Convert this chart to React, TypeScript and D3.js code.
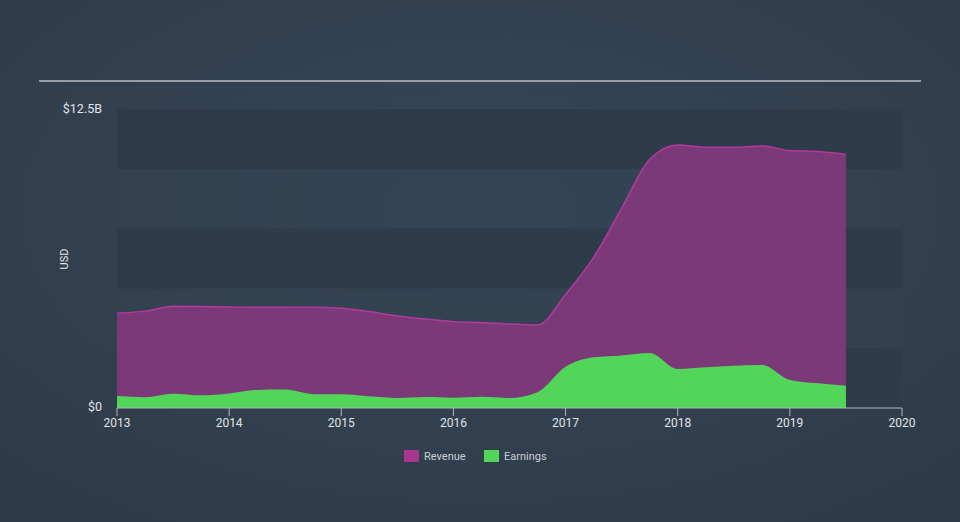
import React from "react";
import * as d3 from "d3";

const years = [2013, 2013.25, 2013.5, 2013.75, 2014, 2014.25, 2014.5, 2014.75, 2015, 2015.25, 2015.5, 2015.75, 2016, 2016.25, 2016.5, 2016.75, 2017, 2017.25, 2017.5, 2017.75, 2018, 2018.25, 2018.5, 2018.75, 2019, 2019.25, 2019.5];
const revenue = [3.96, 4.05, 4.25, 4.24, 4.22, 4.21, 4.21, 4.21, 4.17, 4.03, 3.85, 3.72, 3.61, 3.57, 3.51, 3.47, 4.75, 6.3, 8.35, 10.4, 11.0, 10.9, 10.9, 10.95, 10.76, 10.72, 10.6];
const earnings = [0.5, 0.45, 0.6, 0.53, 0.61, 0.75, 0.77, 0.58, 0.57, 0.49, 0.42, 0.46, 0.43, 0.47, 0.42, 0.66, 1.72, 2.12, 2.2, 2.3, 1.63, 1.7, 1.77, 1.8, 1.17, 1.03, 0.93];
const xTicks = [2013, 2014, 2015, 2016, 2017, 2018, 2019, 2020];
const yTickLabels = ["$0", "$12.5B"];
const yMax = 12.5;
const bandCount = 5;

export default function App() {
  const W = 960, H = 522;
  const x = d3.scaleLinear().domain([2013, 2020]).range([117, 902]);
  const y = d3.scaleLinear().domain([0, yMax]).range([408, 109]);
  const curve = d3.curveMonotoneX;
  const revArea = d3.area<number>().x((_, i) => x(years[i])).y0(y(0)).y1((d) => y(d)).curve(curve);
  const revLine = d3.line<number>().x((_, i) => x(years[i])).y((d) => y(d)).curve(curve);
  const earnArea = d3.area<number>().x((_, i) => x(years[i])).y0(y(0)).y1((d) => y(d)).curve(curve);
  const bands = d3.range(bandCount).map((i) => {
    const v0 = (yMax / bandCount) * i;
    const v1 = (yMax / bandCount) * (i + 1);
    return { y0: y(v1), y1: y(v0), dark: i % 2 === 0 };
  });
  return (
    <svg width={W} height={H} style={{ position: "absolute", left: 0, top: 0, fontFamily: "Roboto, 'Open Sans', sans-serif" }}>
      <defs>
        <radialGradient id="bg" cx="50%" cy="40%" r="75%">
          <stop offset="0%" stopColor="#36475a" />
          <stop offset="100%" stopColor="#2e3a47" />
        </radialGradient>
      </defs>
      <rect width={W} height={H} fill="url(#bg)" />
      <line x1={39} x2={921} y1={81} y2={81} stroke="#b8bec4" strokeWidth={1.5} />
      {bands.map((b, i) => (
        <rect key={i} x={x(2013)} width={x(2020) - x(2013)} y={b.y0} height={b.y1 - b.y0} fill={b.dark ? "#2e3b4a" : "#33424f"} opacity={b.dark ? 1 : 0.5} />
      ))}
      <path d={revArea(revenue) || ""} fill="#7b3a77" />
      <path d={revLine(revenue) || ""} fill="none" stroke="#b2399f" strokeWidth={1.5} />
      <path d={earnArea(earnings) || ""} fill="#52d65a" />
      <line x1={x(2013)} x2={x(2020)} y1={408} y2={408} stroke="#aeb6bf" strokeWidth={1} />
      {xTicks.map((t) => (
        <g key={t}>
          <line x1={x(t)} x2={x(t)} y1={408} y2={416} stroke="#aeb6bf" />
          <text x={x(t)} y={427} textAnchor="middle" fill="#e0e4e8" fontSize={12}>{t}</text>
        </g>
      ))}
      <text x={102} y={113} textAnchor="end" fill="#e0e4e8" fontSize={12.5}>{yTickLabels[1]}</text>
      <text x={102} y={411} textAnchor="end" fill="#e0e4e8" fontSize={12.5}>{yTickLabels[0]}</text>
      <text transform="translate(68,259) rotate(-90)" textAnchor="middle" fill="#e0e4e8" fontSize={11}>USD</text>
      <rect x={404} y={450} width={15} height={12} fill="#a8368f" />
      <text x={424} y={460} fill="#c9ced3" fontSize={11}>Revenue</text>
      <rect x={484} y={450} width={15} height={12} fill="#52d65a" />
      <text x={504} y={460} fill="#c9ced3" fontSize={11}>Earnings</text>
    </svg>
  );
}
